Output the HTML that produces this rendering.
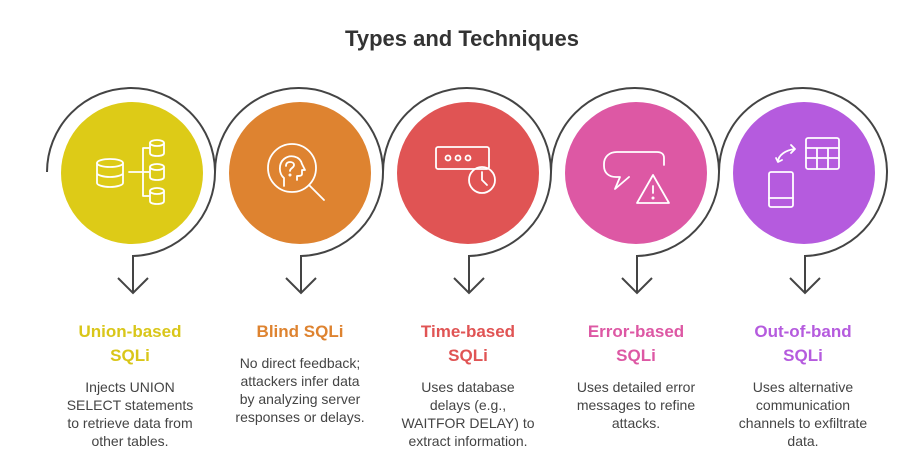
<!DOCTYPE html>
<html><head><meta charset="utf-8"><style>
html,body{margin:0;padding:0;background:#fff;}
svg{display:block;font-family:"Liberation Sans",sans-serif;}
.t{font-weight:bold;font-size:17px;text-anchor:middle;}
.d{font-size:14px;fill:#444;text-anchor:middle;}
.ring{fill:none;stroke:#444;stroke-width:2;}
.ic{fill:none;stroke:#fff;stroke-width:1.8;stroke-linecap:round;stroke-linejoin:round;}
</style></head><body>
<svg width="924" height="474" viewBox="0 0 924 474">
<text x="462" y="46" text-anchor="middle" font-size="22" font-weight="bold" fill="#333">Types and Techniques</text>

<g id="rings">
<path class="ring" d="M47 172 A84 84 0 1 1 133 256 L133 293"/>
<path class="ring" d="M118 278 L133 293 L148 278"/>
<path class="ring" d="M215 172 A84 84 0 1 1 301 256 L301 293"/>
<path class="ring" d="M286 278 L301 293 L316 278"/>
<path class="ring" d="M383 172 A84 84 0 1 1 469 256 L469 293"/>
<path class="ring" d="M454 278 L469 293 L484 278"/>
<path class="ring" d="M551 172 A84 84 0 1 1 637 256 L637 293"/>
<path class="ring" d="M622 278 L637 293 L652 278"/>
<path class="ring" d="M719 172 A84 84 0 1 1 805 256 L805 293"/>
<path class="ring" d="M790 278 L805 293 L820 278"/>
</g>

<circle cx="132" cy="173" r="71" fill="#DDCB17"/>
<circle cx="300" cy="173" r="71" fill="#DE8330"/>
<circle cx="468" cy="173" r="71" fill="#E05454"/>
<circle cx="636" cy="173" r="71" fill="#DD58A4"/>
<circle cx="804" cy="173" r="71" fill="#B55BDE"/>

<g class="ic">
<ellipse cx="110" cy="163" rx="13" ry="4"/><path d="M97 163v20c0 2 6 4 13 4s13-2 13-4v-20M97 173c0 2 6 4 13 4s13-2 13-4"/>
<ellipse cx="157" cy="143" rx="7" ry="3"/><path d="M150 143v10c0 2 3 3 7 3s7-1 7-3v-10"/>
<ellipse cx="157" cy="167" rx="7" ry="3"/><path d="M150 167v10c0 2 3 3 7 3s7-1 7-3v-10"/>
<ellipse cx="157" cy="191" rx="7" ry="3"/><path d="M150 191v10c0 2 3 3 7 3s7-1 7-3v-10"/>
<path d="M129 172h14M143 148v48M143 148h6M143 172h6M143 196h6"/>
</g>
<g class="ic">
<circle cx="292" cy="168" r="24"/><path d="M309 185l15 15"/>
<path d="M284 186v-8c-5-4-6-14 0-19c6-5 16-3 18 5l3 6h-3v4c0 2-3 2-5 2v4"/>
<path d="M286 166c0-3 2-4 4-4s4 1 4 3c0 3-4 3-4 6"/><circle cx="290" cy="175" r="0.6"/>
</g>
<g class="ic">
<rect x="436" y="147" width="53" height="22" rx="2"/>
<circle cx="448" cy="158" r="2.5"/><circle cx="458" cy="158" r="2.5"/><circle cx="468" cy="158" r="2.5"/>
<circle cx="482" cy="180" r="13"/><path d="M482 172v8l5 5"/>
</g>
<g class="ic">
<path d="M664 165v-7c0-4-3-6-7-6h-40c-8 0-13 5-13 12v2c0 7 5 11 12 11h4l-5 12l14-12"/>
<path d="M653 175l-16 28h32z"/><path d="M653 186v7"/><circle cx="653" cy="198" r="0.6"/>
</g>
<g class="ic">
<rect x="806" y="138" width="33" height="31" rx="2"/><path d="M806 148h33M817 148v21M828 148v21M806 158h33"/>
<rect x="769" y="172" width="24" height="35" rx="2"/><path d="M769 198h24"/>
<path d="M778 162c0-7 8-12 17-13M791 145l4 4l-4 4M776 158l2 4l4-2"/>
</g>

<text class="t" fill="#D9C619" x="130" y="337">Union-based</text>
<text class="t" fill="#D9C619" x="130" y="361">SQLi</text>
<text class="d" x="130" y="392">Injects UNION</text>
<text class="d" x="130" y="410">SELECT statements</text>
<text class="d" x="130" y="428">to retrieve data from</text>
<text class="d" x="130" y="446">other tables.</text>

<text class="t" fill="#DE8330" x="300" y="337">Blind SQLi</text>
<text class="d" x="300" y="368">No direct feedback;</text>
<text class="d" x="300" y="386">attackers infer data</text>
<text class="d" x="300" y="404">by analyzing server</text>
<text class="d" x="300" y="422">responses or delays.</text>

<text class="t" fill="#E05454" x="468" y="337">Time-based</text>
<text class="t" fill="#E05454" x="468" y="361">SQLi</text>
<text class="d" x="468" y="392">Uses database</text>
<text class="d" x="468" y="410">delays (e.g.,</text>
<text class="d" x="468" y="428">WAITFOR DELAY) to</text>
<text class="d" x="468" y="446">extract information.</text>

<text class="t" fill="#DD58A4" x="636" y="337">Error-based</text>
<text class="t" fill="#DD58A4" x="636" y="361">SQLi</text>
<text class="d" x="636" y="392">Uses detailed error</text>
<text class="d" x="636" y="410">messages to refine</text>
<text class="d" x="636" y="428">attacks.</text>

<text class="t" fill="#B55BDE" x="803" y="337">Out-of-band</text>
<text class="t" fill="#B55BDE" x="803" y="361">SQLi</text>
<text class="d" x="803" y="392">Uses alternative</text>
<text class="d" x="803" y="410">communication</text>
<text class="d" x="803" y="428">channels to exfiltrate</text>
<text class="d" x="803" y="446">data.</text>
</svg>
</body></html>
